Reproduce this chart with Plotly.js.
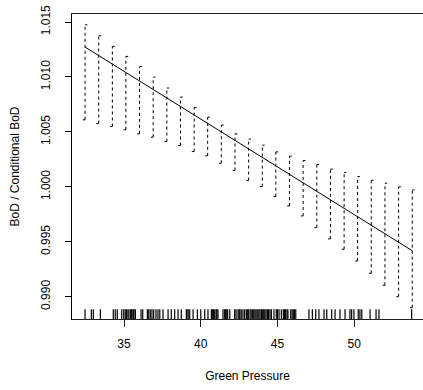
<!DOCTYPE html>
<html>
<head>
<meta charset="utf-8">
<script src="https://cdn.plot.ly/plotly-3.0.1.min.js"></script>
<style>html,body{margin:0;padding:0;background:#fff;}#chart{width:423px;height:390px;}</style>
</head>
<body>
<div id="chart"></div>
<script>
// Green Pressure grid positions of the interval bars
var barX = [32.46, 33.35, 34.24, 35.12, 36.01, 36.90, 37.79, 38.68, 39.57, 40.45,
            41.34, 42.23, 43.12, 44.01, 44.89, 45.78, 46.67, 47.56, 48.45, 49.34,
            50.22, 51.11, 52.00, 52.89, 53.78];
// upper ends of the intervals
var barHi = [1.01475, 1.01375, 1.01278, 1.01187, 1.01095, 1.00999, 1.00899, 1.00817, 1.00722, 1.00634,
             1.00562, 1.00482, 1.00434, 1.00379, 1.00318, 1.00279, 1.00239, 1.00203, 1.00161, 1.00130,
             1.00093, 1.00060, 1.00033, 1.00000, 0.99972];
// lower ends of the intervals
var barLo = [1.00610, 1.00576, 1.00549, 1.00519, 1.00482, 1.00452, 1.00412, 1.00376, 1.00321, 1.00282,
             1.00215, 1.00148, 1.00057, 1.00002, 0.99911, 0.99826, 0.99735, 0.99629, 0.99526, 0.99432,
             0.99325, 0.99213, 0.99104, 0.99000, 0.98900];
// fitted line end points
var fitX = [32.46, 53.78];
var fitY = [1.01272, 0.99418];
// rug of observed Green Pressure values
var rugX = [32.46, 32.87, 33.00, 33.46, 34.30, 34.43, 34.56, 34.85, 34.98, 35.08, 35.15, 35.20, 35.31,
            35.41, 35.47, 35.52, 35.60, 35.65, 35.74, 36.11, 36.22, 36.52, 36.61, 36.71, 36.82, 36.93,
            37.08, 37.21, 37.33, 37.54, 37.87, 38.08, 38.30, 38.52, 38.73, 39.06, 39.10, 39.18, 39.28,
            39.50, 39.78, 40.00, 40.26, 40.47, 40.69, 40.75, 40.83, 40.91, 41.00, 41.05, 41.12, 41.45,
            41.56, 41.60, 41.66, 41.75, 41.89, 42.21, 42.30, 42.43, 42.50, 42.55, 42.64, 42.75, 42.86,
            42.97, 43.03, 43.10, 43.21, 43.28, 43.36, 43.45, 43.53, 43.60, 43.68, 43.78, 43.86, 43.95,
            44.01, 44.10, 44.17, 44.25, 44.34, 44.42, 44.51, 44.60, 44.77, 44.92, 45.00, 45.10, 45.25,
            45.38, 45.45, 45.53, 45.62, 45.68, 45.86, 45.95, 46.03, 46.10, 46.19, 47.05, 47.27, 47.49,
            47.70, 48.03, 48.21, 48.53, 48.75, 49.07, 49.40, 49.72, 49.83, 49.98, 50.26, 50.37, 50.49,
            51.03, 51.42, 51.61, 53.74];
var xTicks = [35, 40, 45, 50];
var yTicks = [0.990, 0.995, 1.000, 1.005, 1.010, 1.015];

var capW = 0.15;
var segX = [], segY = [], topX = [], topY = [], botX = [], botY = [];
for (var i = 0; i < barX.length; i++) {
  segX.push(barX[i], barX[i], null);
  segY.push(barLo[i], barHi[i], null);
  topX.push(barX[i], barX[i] + capW, null);
  topY.push(barHi[i], barHi[i], null);
  botX.push(barX[i] - capW, barX[i], null);
  botY.push(barLo[i], barLo[i], null);
}

var traces = [
  {x: segX, y: segY, mode: 'lines', line: {color: '#000', width: 1, dash: '3px,3px'}, hoverinfo: 'skip'},
  {x: topX, y: topY, mode: 'lines', line: {color: '#000', width: 1}, hoverinfo: 'skip'},
  {x: botX, y: botY, mode: 'lines', line: {color: '#000', width: 1}, hoverinfo: 'skip'},
  {x: fitX, y: fitY, mode: 'lines', line: {color: '#000', width: 1}, hoverinfo: 'skip'}
];

var shapes = rugX.map(function (v) {
  return {type: 'line', xref: 'x', yref: 'paper', x0: v, x1: v, y0: 0, y1: 0.032,
          line: {color: '#000', width: 1.2}};
});

var font = {family: 'Liberation Sans, Arial, sans-serif', size: 12, color: '#000'};
var layout = {
  width: 423, height: 390,
  margin: {l: 72, r: 0, t: 14, b: 71},
  paper_bgcolor: '#fff', plot_bgcolor: '#fff',
  showlegend: false,
  font: font,
  shapes: shapes,
  xaxis: {
    range: [31.61, 54.48], tickvals: xTicks, ticktext: xTicks.map(String),
    showgrid: false, zeroline: false, showline: true, mirror: true,
    linecolor: '#222', linewidth: 1, ticks: 'outside', ticklen: 7, tickcolor: '#222',
    tickfont: font, ticklabelstandoff: 7,
    title: {text: 'Green Pressure', font: font, standoff: 21}
  },
  yaxis: {
    range: [0.98797, 1.01573], tickvals: yTicks, ticktext: yTicks.map(function (v) { return v.toFixed(3); }),
    showgrid: false, zeroline: false, showline: true, mirror: false,
    linecolor: '#000', linewidth: 1, ticks: 'outside', ticklen: 6, tickcolor: '#000',
    tickangle: -90, tickfont: font, ticklabelstandoff: 10,
    title: {text: 'BoD / Conditional BoD', font: font, standoff: 17}
  }
};

Plotly.newPlot('chart', traces, layout, {displayModeBar: false, staticPlot: true});
</script>
</body>
</html>
